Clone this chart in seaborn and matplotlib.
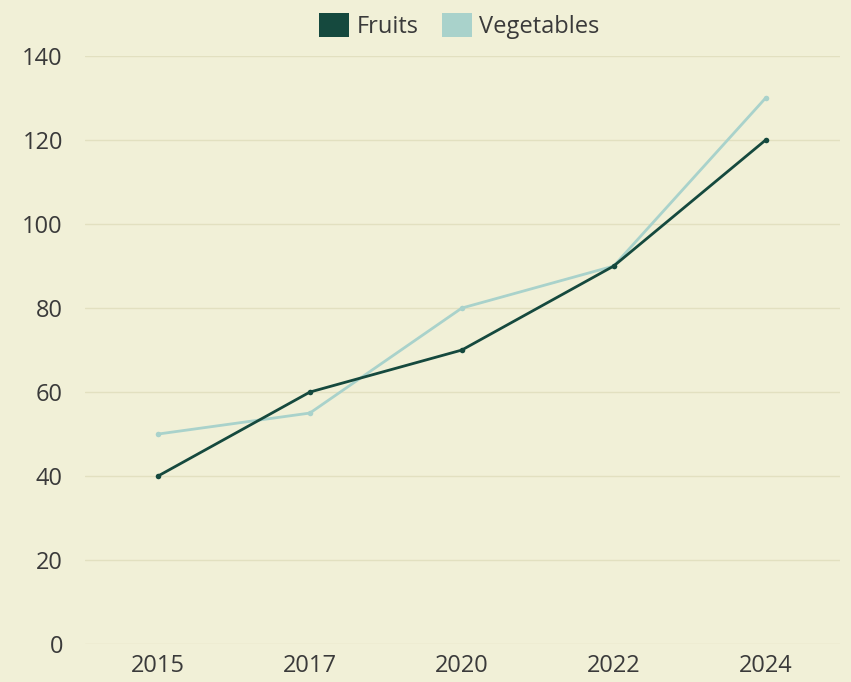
import matplotlib
matplotlib.use("Agg")
import matplotlib.pyplot as plt
import seaborn as sns
import pandas as pd
from matplotlib.patches import Patch

years = ["2015", "2017", "2020", "2022", "2024"]
fruits = [40, 60, 70, 90, 120]
vegetables = [50, 55, 80, 90, 130]
series_names = ["Fruits", "Vegetables"]
y_ticks = [0, 20, 40, 60, 80, 100, 120, 140]

df = pd.DataFrame({
    "year": years * 2,
    "value": fruits + vegetables,
    "series": [series_names[0]] * len(years) + [series_names[1]] * len(years),
})

bg = "#f1f0d7"
colors = {"Fruits": "#15493e", "Vegetables": "#a9d2cb"}
txt = "#3a3a3a"

sns.set_theme(style="white")
plt.rcParams["font.family"] = ["Open Sans", "DejaVu Sans"]

fig = plt.figure(figsize=(8.51, 6.82), dpi=100, facecolor=bg)
ax = fig.add_axes([0.1, 0.0557, 0.887, 0.862])
ax.set_facecolor(bg)

sns.lineplot(data=df, x="year", y="value", hue="series", palette=colors,
             hue_order=["Vegetables", "Fruits"], linewidth=2, marker="o",
             markersize=4, markeredgewidth=0, ax=ax, legend=False, sort=False)

ax.set_xlim(-0.48, 4.49)
ax.set_ylim(0, 140)
ax.set_yticks(y_ticks)
ax.grid(axis="y", color="#e2e0c0", linewidth=1)
ax.grid(axis="x", visible=False)
for s in ax.spines.values():
    s.set_visible(False)
ax.set_xlabel("")
ax.set_ylabel("")
ax.tick_params(axis="both", length=0, labelsize=17, labelcolor=txt)
ax.tick_params(axis="y", pad=16)
ax.tick_params(axis="x", pad=7)

handles = [Patch(facecolor=colors[n], edgecolor="none") for n in series_names]
fig.legend(handles, series_names, loc="center", bbox_to_anchor=(0.54, 0.962),
           ncol=2, frameon=False, fontsize=17, handlelength=1.27, handleheight=1.19,
           columnspacing=1.0, handletextpad=0.3, labelcolor=txt)

fig.savefig("out.png", dpi=100, facecolor=bg)
